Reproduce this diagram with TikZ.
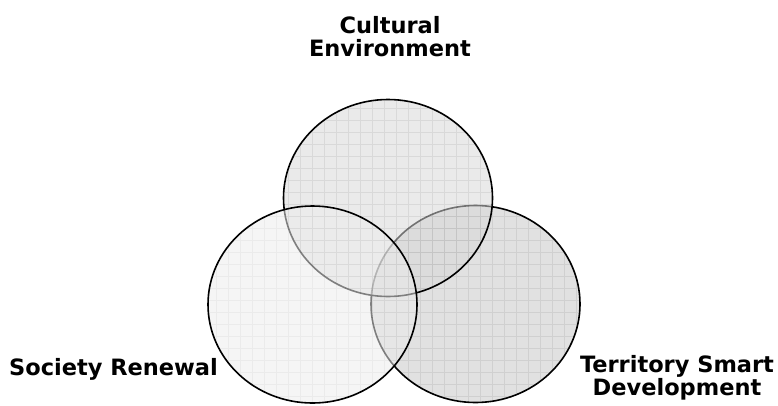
\documentclass[tikz,border=0pt]{standalone}
\usepackage{fontspec}
\setmainfont{DejaVu Sans}
\usetikzlibrary{shapes.geometric}
\definecolor{fillR}{gray}{0.806}
\definecolor{fillT}{gray}{0.849}
\definecolor{fillL}{gray}{0.926}
\tikzset{
  venn/.style={ellipse, draw=black, line width=1.6pt, inner sep=0pt, outer sep=0pt,
    minimum width=209pt, minimum height=197pt},
  gridlines/.style={black, opacity=0.07, line width=0.7pt, step=12pt},
  lbl/.style={font=\fontsize{22.5}{23}\selectfont\bfseries, align=center, inner sep=0pt},
}
\begin{document}
\begin{tikzpicture}[x=1pt,y=-1pt]
\useasboundingbox (0,0) rectangle (778,405);
% right circle (drawn first)
\node[venn, fill=fillR, fill opacity=0.62] (terr) at (475.5,304) {};
\begin{scope}
  \clip (475.5,304) ellipse [x radius=103.5pt, y radius=97.5pt];
  \draw[gridlines] (360,195) grid (590,410);
\end{scope}
% top circle
\node[venn, fill=fillT, fill opacity=0.53] (cult) at (388,198) {};
\begin{scope}
  \clip (388,198) ellipse [x radius=103.5pt, y radius=97.5pt];
  \draw[gridlines] (280,95) grid (500,300);
\end{scope}
% left circle
\node[venn, fill=fillL, fill opacity=0.54] (soc) at (312.5,304.5) {};
\begin{scope}
  \clip (312.5,304.5) ellipse [x radius=103.5pt, y radius=97.5pt];
  \draw[gridlines, opacity=0.04] (200,200) grid (420,410);
\end{scope}
% labels
\node[lbl, anchor=base] (tcult) at (390,56) {Cultural\\Environment};
\node[lbl, anchor=base] (tsoc) at (113.5,375) {Society Renewal};
\node[lbl, anchor=base] (tterr) at (677,395) {Territory Smart\\Development};
\end{tikzpicture}
\end{document}
